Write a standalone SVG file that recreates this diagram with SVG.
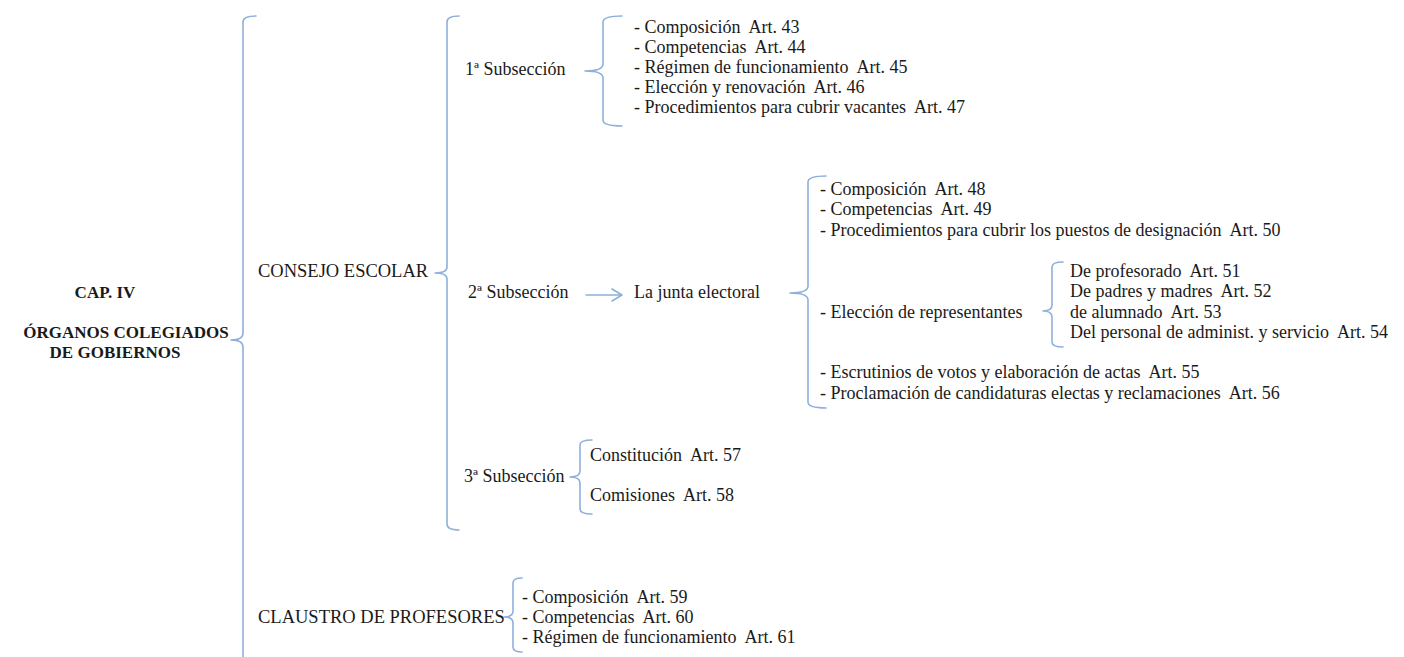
<svg xmlns="http://www.w3.org/2000/svg" width="1404" height="657" viewBox="0 0 1404 657" font-family="Liberation Serif, Times New Roman, Times, serif">
<style>
text{font-family:"Liberation Serif","Times New Roman",Times,serif}
.t{font-size:18px;fill:#1a1a1a;white-space:pre}
.c{font-size:18.5px}
.b{font-size:17px;font-weight:bold;text-anchor:middle}
.br{fill:none;stroke:#8fb0dc;stroke-width:1.6;stroke-linecap:round;stroke-linejoin:round}
</style>
<rect width="1404" height="657" fill="#ffffff"/>
<g id="connectors">
<path class="br" d="M256,16 Q243,16 243,22 L243,333 Q243,340 231,340 Q243,340 243,347 L243,660"/>
<path class="br" d="M459,16 Q447,16 447,22 L447,267 Q447,273 435,273 Q447,273 447,279 L447,524 Q447,530 459,530"/>
<path class="br" d="M622,16 Q603,16 603,22 L603,64 Q603,71 585,71 Q603,71 603,78 L603,120 Q603,126 622,126"/>
<path class="br" d="M826,176 Q808,176 808,182 L808,286 Q808,293 790,293 Q808,293 808,300 L808,402 Q808,408 826,408"/>
<path class="br" d="M1063,262 Q1052,262 1052,267 L1052,305 Q1052,311 1043,311 Q1052,311 1052,317 L1052,342 Q1052,347 1063,347"/>
<path class="br" d="M592,440 Q580,440 580,445 L580,471 Q580,477 570,477 Q580,477 580,483 L580,509 Q580,514 592,514"/>
<path class="br" d="M522,578 Q513,578 513,583 L513,611 Q513,617 504,617 Q513,617 513,623 L513,647 Q513,652 522,652"/>
<path class="br" d="M586,295 L621,295 M612,289 L622,295 L612,301"/>
</g>
<g id="cap">
<text class="t b" x="105" y="298">CAP. IV</text>
<text class="t b" x="126" y="338">ÓRGANOS COLEGIADOS</text>
<text class="t b" x="115" y="358">DE GOBIERNOS</text>
</g>
<g id="consejo"><text class="t c" x="258" y="277">CONSEJO ESCOLAR</text></g>
<g id="sub1">
<text class="t" x="465" y="75">1ª Subsección</text>
<text class="t" x="634" y="33" xml:space="preserve">- Composición  Art. 43</text>
<text class="t" x="634" y="53" xml:space="preserve">- Competencias  Art. 44</text>
<text class="t" x="634" y="73" xml:space="preserve">- Régimen de funcionamiento  Art. 45</text>
<text class="t" x="634" y="93" xml:space="preserve">- Elección y renovación  Art. 46</text>
<text class="t" x="634" y="113" xml:space="preserve">- Procedimientos para cubrir vacantes  Art. 47</text>
</g>
<g id="sub2">
<text class="t" x="468" y="298">2ª Subsección</text>
</g>
<g id="junta">
<text class="t" x="634" y="298">La junta electoral</text>
<text class="t" x="820" y="195" xml:space="preserve">- Composición  Art. 48</text>
<text class="t" x="820" y="215" xml:space="preserve">- Competencias  Art. 49</text>
<text class="t" x="820" y="236" xml:space="preserve">- Procedimientos para cubrir los puestos de designación  Art. 50</text>
<text class="t" x="820" y="318">- Elección de representantes</text>
<text class="t" x="820" y="378" xml:space="preserve">- Escrutinios de votos y elaboración de actas  Art. 55</text>
<text class="t" x="820" y="399" xml:space="preserve">- Proclamación de candidaturas electas y reclamaciones  Art. 56</text>
</g>
<g id="representantes">
<text class="t" x="1070" y="277" xml:space="preserve">De profesorado  Art. 51</text>
<text class="t" x="1070" y="297" xml:space="preserve">De padres y madres  Art. 52</text>
<text class="t" x="1070" y="318" xml:space="preserve">de alumnado  Art. 53</text>
<text class="t" x="1070" y="338" xml:space="preserve">Del personal de administ. y servicio  Art. 54</text>
</g>
<g id="sub3">
<text class="t" x="464" y="482">3ª Subsección</text>
<text class="t" x="590" y="461" xml:space="preserve">Constitución  Art. 57</text>
<text class="t" x="590" y="501" xml:space="preserve">Comisiones  Art. 58</text>
</g>
<g id="claustro">
<text class="t c" x="258" y="623">CLAUSTRO DE PROFESORES</text>
<text class="t" x="522" y="603" xml:space="preserve">- Composición  Art. 59</text>
<text class="t" x="522" y="623" xml:space="preserve">- Competencias  Art. 60</text>
<text class="t" x="522" y="643" xml:space="preserve">- Régimen de funcionamiento  Art. 61</text>
</g>
</svg>
